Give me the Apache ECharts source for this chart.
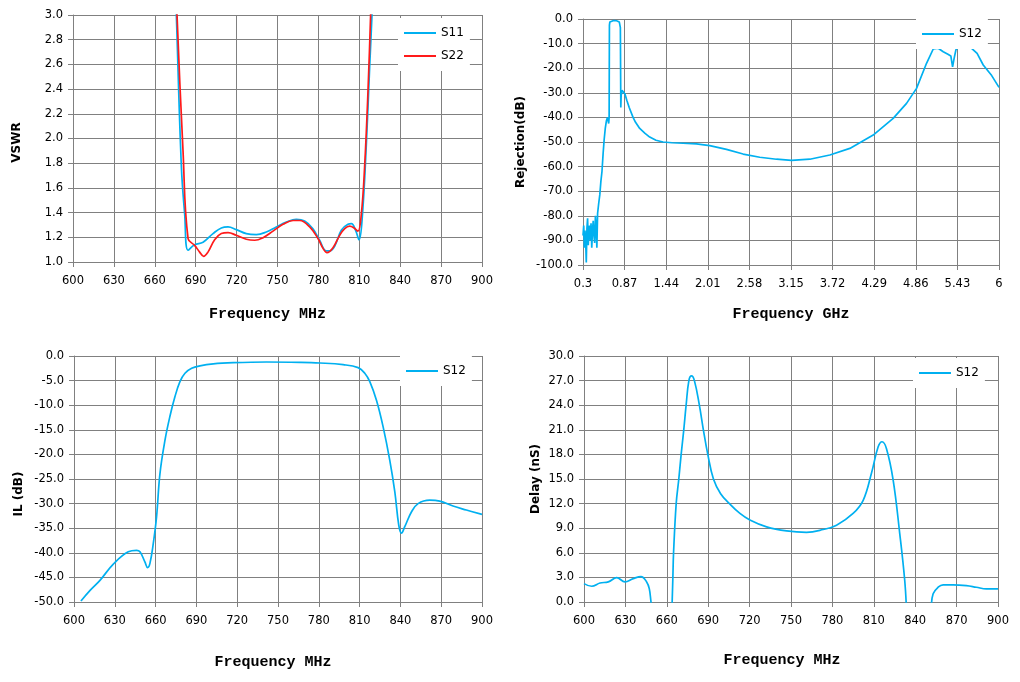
<!DOCTYPE html>
<html>
<head>
<meta charset="utf-8">
<script src="https://cdn.jsdelivr.net/npm/echarts@6/dist/echarts.min.js"></script>
<style>
    html, body { margin: 0; padding: 0; background: #fff; }
    #chart { width: 1020px; height: 682px; }
</style>
</head>
<body>
<div id="chart"></div>
<script>
// VSWR (top left)
const s11Freq = [674, 675.8, 679.5, 681.9, 684.4, 689.2, 695.4, 702.7, 708.8, 713.7, 719.8, 727.1, 734.5, 741.8, 749.1, 756.5, 763.8, 769.9, 776, 780.9, 785.8, 788.3, 791.9, 796.8, 801.7, 804.2, 807.3, 809.8, 812.2, 815.2, 817.6, 819.3, 820.5];
const s11Vswr = [3.6, 3.0, 1.77, 1.39, 1.095, 1.14, 1.16, 1.23, 1.276, 1.284, 1.262, 1.23, 1.222, 1.243, 1.284, 1.324, 1.346, 1.332, 1.27, 1.176, 1.09, 1.09, 1.127, 1.257, 1.305, 1.31, 1.257, 1.18, 1.365, 1.96, 2.58, 3.0, 3.4];
const s22Freq = [674.5, 676.3, 680.7, 684.4, 689.2, 692.9, 695.8, 699, 703.9, 708.8, 713.7, 719.8, 727.1, 733.3, 739.4, 746.7, 754, 761.4, 766.3, 773.6, 779.7, 783.4, 786.3, 790.7, 795.6, 799.3, 802.9, 805.9, 809, 811.5, 813.9, 816.4, 818.3, 819.5];
const s22Vswr = [3.6, 3.0, 1.9, 1.19, 1.135, 1.08, 1.046, 1.08, 1.18, 1.23, 1.238, 1.216, 1.184, 1.176, 1.197, 1.25, 1.305, 1.336, 1.336, 1.284, 1.19, 1.11, 1.076, 1.116, 1.216, 1.27, 1.29, 1.278, 1.25, 1.39, 1.77, 2.39, 3.0, 3.4];

// Rejection (top right), GHz
const rejTicks = [0.3, 0.87, 1.44, 2.01, 2.58, 3.15, 3.72, 4.29, 4.86, 5.43, 6];
const rejFreq = [0.300, 0.310, 0.318, 0.327, 0.336, 0.345, 0.354, 0.363, 0.372, 0.381, 0.390, 0.400, 0.410, 0.420, 0.430, 0.440, 0.450, 0.460, 0.470, 0.480, 0.490, 0.500,
    0.515, 0.530, 0.545, 0.560, 0.575, 0.590, 0.605, 0.620, 0.635, 0.645, 0.652, 0.658,
    0.662, 0.668, 0.685, 0.72, 0.76, 0.797, 0.812,
    0.818, 0.823, 0.835, 0.843, 0.855, 0.875, 0.90, 0.933, 0.986, 1.02, 1.077, 1.15, 1.214, 1.30, 1.397, 1.52, 1.671, 1.854, 2.037, 2.265, 2.494, 2.722, 2.951, 3.157,
    3.408, 3.682, 3.956, 4.276, 4.550, 4.733, 4.870, 5.007, 5.099, 5.167, 5.236, 5.300, 5.340, 5.364, 5.385, 5.410, 5.442, 5.510, 5.625, 5.70, 5.784, 5.90, 6.0];
const rejVal = [-88, -84, -93, -86, -90, -99, -85, -81, -92, -86, -84, -90, -83, -93, -86, -82, -88, -91, -80, -84, -93, -79,
    -75, -71.5, -66, -62, -55, -49, -44.5, -41.5, -40, -39.5, -42.5, -40,
    -2.5, -1.2, -0.7, -0.6, -0.7, -1.2, -3.5,
    -36, -31, -29, -29, -29.3, -30.5, -33, -36, -40, -42, -44.5, -46.5, -48, -49.3, -50, -50.3, -50.5, -50.8, -51.5, -53, -54.9, -56.2, -57, -57.5,
    -57, -55.3, -52.6, -47.2, -40.4, -34.3, -28.2, -18, -12.2, -11.9, -13.3, -14.3, -15, -19.5, -16, -12.5, -11.5, -11.5, -11.9, -14, -18.7, -23, -27.8];

// Insertion loss (bottom left)
const ilFreq = [605.1, 612, 619.1, 628.9, 639.9, 646, 648.5, 652.2, 654.1, 655.8, 658.3, 660.7, 663.2, 666.9, 670.5, 674.2, 677.9, 681.6, 686.5, 692.6, 702.4, 717.1, 741.6, 766, 780.8, 797.9, 808.9, 813.8, 817.5, 822.4, 827.3, 832.2, 835.9, 838.8, 840.8, 843.2, 848.1, 853, 861.6, 868.9, 878.7, 888.5, 900];
const ilVal = [-49.8, -47.6, -45.6, -42.3, -39.8, -39.5, -39.8, -41.9, -43, -42.2, -38.1, -32.7, -23.9, -17.1, -12.3, -8.3, -5.2, -3.5, -2.5, -2.0, -1.6, -1.36, -1.22, -1.29, -1.42, -1.76, -2.37, -3.5, -5.2, -9.0, -14.4, -21.2, -27.6, -34.4, -36.0, -34.7, -31.7, -30, -29.3, -29.5, -30.5, -31.3, -32.2];

// Group delay (bottom right), gaps where the trace leaves the axis
const delayFreq = [600, 605.6, 611.6, 617.6, 623.7, 629.7, 635.7, 641.3, 645.4, 647.3, 648.5, 649.3, 656, 663.8, 664.4, 664.9, 666.8, 668.7, 670.4, 672.3, 674, 676, 677.9, 680, 683.6, 686.5, 689.7, 693.8, 699, 705.4, 713, 720.2, 732.3, 746.8, 761.2, 773.3, 783, 795, 802.3, 808.3, 813.1, 816, 819.2, 824, 828.8, 832.4, 833.7, 842, 851.7, 853, 856.6, 860.2, 867.4, 877.1, 884.3, 891.6, 900];
const delayVal = [2.24, 1.92, 2.32, 2.45, 2.97, 2.45, 2.85, 3.1, 2.45, 1.63, 0.08, -1.0, null, -0.5, 3.0, 6.0, 12.0, 15.0, 18.0, 21.0, 24.0, 27.0, 27.57, 27.0, 24.0, 21.0, 18.0, 15.0, 13.2, 12.0, 10.8, 10.0, 9.16, 8.67, 8.5, 8.84, 9.37, 10.8, 12.4, 15.7, 18.9, 19.54, 18.7, 14.9, 8.35, 2.65, -1.0, null, -0.6, 1.0, 1.8, 2.1, 2.1, 2.0, 1.8, 1.6, 1.6];

const BLUE = '#00b0f0';
const RED = '#ff1a1a';
const GRID_GRAY = '#808080';
const LABEL_FONT = 'DejaVu Sans';

function pairs(xs, ys) {
    return xs.map((x, i) => [x, ys[i]]);
}

function xAxisFor(gridIndex, min, max, interval, nameGap, shift) {
    return {
        type: 'value', gridIndex, min, max, interval,
        name: 'Frequency MHz',
        nameLocation: 'middle',
        nameGap,
        nameMoveOverlap: false,
        nameTextStyle: {
            fontFamily: 'Liberation Mono', fontWeight: 'bold', fontSize: 15, color: '#000',
            padding: [0, shift || 0, 0, 0]
        },
        axisLine: { show: true, onZero: false, lineStyle: { color: GRID_GRAY, width: 1 } },
        axisTick: { show: true, length: 5, lineStyle: { color: GRID_GRAY } },
        splitLine: { show: true, lineStyle: { color: GRID_GRAY, width: 1 } },
        axisLabel: {
            color: '#000', fontFamily: LABEL_FONT, fontSize: 11.5, margin: 13,
            showMinLabel: true, showMaxLabel: true, hideOverlap: false
        }
    };
}

function yAxisFor(gridIndex, name, min, max, interval, nameGap, shift) {
    return {
        type: 'value', gridIndex, min, max, interval,
        name,
        nameLocation: 'middle',
        nameGap,
        nameMoveOverlap: false,
        nameTextStyle: {
            fontFamily: LABEL_FONT, fontWeight: 'bold', fontSize: 12, color: '#000',
            padding: [0, shift || 0, 0, 0]
        },
        axisLine: { show: true, onZero: false, lineStyle: { color: GRID_GRAY, width: 1 } },
        axisTick: { show: true, length: 5, lineStyle: { color: GRID_GRAY } },
        splitLine: { show: true, lineStyle: { color: GRID_GRAY, width: 1 } },
        axisLabel: {
            color: '#000', fontFamily: LABEL_FONT, fontSize: 11.5, margin: 10,
            showMinLabel: true, showMaxLabel: true, hideOverlap: false,
            formatter: v => v.toFixed(1)
        }
    };
}

function legendAt(names, left, top) {
    return {
        data: names, left, top,
        orient: 'vertical',
        backgroundColor: '#fff',
        padding: [9, 6, 9, 5],
        itemGap: 11,
        itemWidth: 32,
        itemHeight: 14,
        selectedMode: false,
        // line series draw a circle in the legend icon; hide it, keep the line
        itemStyle: { opacity: 0 },
        lineStyle: { width: 2 },
        textStyle: { fontFamily: LABEL_FONT, fontSize: 12, color: '#000' }
    };
}

function lineSeries(name, xIdx, data, color, smooth) {
    return {
        name, type: 'line',
        xAxisIndex: xIdx, yAxisIndex: xIdx,
        data,
        symbol: 'none',
        smooth: smooth ? 0.4 : false,
        connectNulls: false,
        clip: true,
        animation: false,
        lineStyle: { color, width: 1.7 },
        itemStyle: { color }
    };
}

const rejX = xAxisFor(1, 0.3, 6, null, 42, 0);
delete rejX.interval;
rejX.name = 'Frequency GHz';
rejX.axisTick.customValues = rejTicks;
rejX.axisLabel.customValues = rejTicks;
rejX.axisLabel.formatter = v => String(v);

const option = {
    backgroundColor: '#fff',
    animation: false,
    grid: [
        { left: 73, top: 15, width: 409, height: 247, outerBoundsMode: 'none', containLabel: false },
        { left: 583, top: 19, width: 416, height: 246, outerBoundsMode: 'none', containLabel: false },
        { left: 74, top: 356, width: 408, height: 246, outerBoundsMode: 'none', containLabel: false },
        { left: 584, top: 356, width: 414, height: 246, outerBoundsMode: 'none', containLabel: false }
    ],
    legend: [
        legendAt(['S11', 'S22'], 398, 18),
        legendAt(['S12'], 916, 19),
        legendAt(['S12'], 400, 356),
        legendAt(['S12'], 913, 358)
    ],
    xAxis: [
        xAxisFor(0, 600, 900, 30, 45, 20),
        rejX,
        xAxisFor(2, 600, 900, 30, 53, 10),
        xAxisFor(3, 600, 900, 30, 51, 18)
    ],
    yAxis: [
        yAxisFor(0, 'VSWR', 1, 3, 0.2, 50, 8),
        yAxisFor(1, 'Rejection(dB)', -100, 0, 10, 56, 0),
        yAxisFor(2, 'IL (dB)', -50, 0, 5, 49, 30),
        yAxisFor(3, 'Delay (nS)', 0, 30, 3, 42, 0)
    ],
    series: [
        lineSeries('S11', 0, pairs(s11Freq, s11Vswr), BLUE, true),
        lineSeries('S22', 0, pairs(s22Freq, s22Vswr), RED, true),
        lineSeries('S12', 1, pairs(rejFreq, rejVal), BLUE, false),
        lineSeries('S12', 2, pairs(ilFreq, ilVal), BLUE, true),
        lineSeries('S12', 3, pairs(delayFreq, delayVal), BLUE, true)
    ]
};

const chart = echarts.init(document.getElementById('chart'), null, { renderer: 'canvas' });
chart.setOption(option);
</script>
</body>
</html>
